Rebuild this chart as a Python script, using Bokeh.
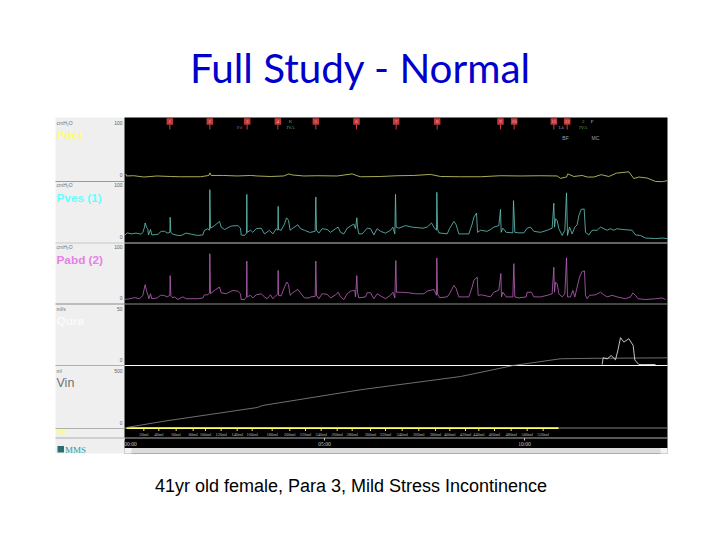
from bokeh.plotting import figure
from bokeh.models import Range1d, Label, BoxAnnotation
from bokeh.embed import file_html
from bokeh.resources import INLINE

# ---- data (time in s, pressure in cmH2O, flow ml/s, volume ml)
pdet_t = [2,3,14,29,49,69,84,114,126.5,128,130,149,169,189,199,219,239,246.5,251.5,269,289,319,341.5,349,354,384,409,434,459,474,504,534,564,594,624,649,654,663,665,674,686.5,694,704,715,726.5,738,756.5,764,771.5,784,796.5,806.5,814]
pdet_v = [5,1,1.5,-1,1,0,-0.5,-0.5,2,7,2,2,1,2,1,0,1,5,3,1,1.5,1,5,1.5,-0.5,0,1.5,2,4,0,-0.5,-0.5,1.5,1,1.5,1,-3.5,-1,5,0,2,-1,-1,3.5,0,6.5,9,-4,-1,-3,-9.5,-10,-8]

pves_t = [0,4,10,17.5,25,27.5,30,31,33,35,36,39,41,50,55,60,65,68,68.5,69.5,72.5,80,85,92.5,100,110,117.5,120,125,127.5,128,129,135,142.5,145,150,160,170,174,175,180,183,183.5,184,189,192.5,197.5,205,210,217.5,222.5,227.5,230,230.5,231,235,240,243,246,248.5,252.5,260,264,270,277.5,
          279,286,287,288,291.5,296.5,304,309,316.5,320.5,324,329,334,339,344,346.5,348.5,349.5,351.5,356.5,364,369,374,379,384,391.5,399,402.5,405.5,406.5,407.5,411.5,421.5,431.5,447.5,454,460.5,464,468,468.5,469.5,471.5,484,487.5,494,497.5,501.5,516.5,521.5,524,528,529.5,534,544,
          549,554,561.5,564,565,567.5,572.5,582.5,583.5,585.5,591.5,599,604,609,614,624,634,641.5,644,645,646.5,649,651.5,656.5,660.5,663,664.5,667.5,671.5,675.5,679,681.5,685,689.5,691.5,696.5,701.5,709,714,719,724,729,734,739,746.5,761.5,766.5,774,781.5,796.5,806.5,814.5]
pves_v = [2,7,5,6.5,4.5,8,18,26,18,13.5,3,13.5,3,4,10,10,6.5,8,37,8,4.5,2,2,6.5,4.5,2,3,12,15,12,90,16,21,29,18,13.5,20,21,16,3,2,6.5,81,8,12,8,15,16,5,12,5,15,12,58,13.5,12,24,36,31,12,16,22.5,15,12,8,
          8,10,76,12,6.5,15,13.5,8,15,18,8,5,16,20,24,15,36,18,5,5,16,15,3,15,10,6.5,12,18,5,81,18,16,21,18,16,18,26,18,12,85,15,7,5,15,29,22.5,5,5,24,37,45,8,12,10,
          13.5,18,21,52,8,16,8,7,69,8,7,7,16,18,10,8,12,16,64,18,34,31,15,2,12,84,2,18,5,18,22.5,40,52,53,8,3,12,12,18,15,12,15,12,15,13.5,12,3,2,-3,-4,-3,-4]

pabd_t = [0,7.5,15,22.5,27.5,31,33,35,36.5,39,41,49,54,59,64,68,68.5,69.5,72.5,75,80,87.5,92.5,110,117.5,120,125,127.5,128,129,135,142.5,145,152.5,162.5,170,174,175,180,183,183.5,184,189,192.5,197.5,205,210,214,219,222.5,227.5,230,230.5,231,235,240,243.5,246,248.5,252.5,260,265,270,277.5,
          279,286,287,288,291.5,296.5,304,309,316.5,320.5,324,329,334,339,345.5,346.5,348.5,349.5,351.5,361.5,364,369,374,379,384,391.5,399,402.5,405.5,407,408,414,426.5,436.5,449,454,464,468,468.5,469.5,472.5,484,487.5,494,497.5,501.5,516.5,521.5,524,529,530.5,535.5,549,
          554,561.5,564.5,565.5,567.5,572.5,582.5,584,585.5,591.5,602.5,604,610.5,614,624,634,641.5,644,645,646.5,649,651.5,656.5,660.5,663,664.5,669,672.5,675.5,679,682.5,686.5,690,691.5,694,697.5,706.5,714,719,724,731.5,739,751.5,759,762.5,766.5,770.5,781.5,796.5,806.5,811.5]
pabd_v = [0,1.5,3.5,1.5,8,28.5,17.5,9,1.5,11,1.5,3,8,8,5,8,46,8,3,5,0,5,1.5,1.5,3,9,9,13,88,11,17.5,24,13,11,17.5,16,11,0,0,5,74,5,8,3,9,11,5,1.5,9,1.5,8,11,56,8,7,24,33.5,28.5,8,13,19.5,11,3,3,
          5,6,74,8,1.5,11,10,3,9,14,5,0,11,16,17.5,5,46,14,3,5,13,13,1.5,11,7,1.5,8,14,3,75,14,14,13,11,11,16,19.5,8,80,11,3.5,5,11,27,21,5,5,24,37,43,8,9,5,
          14,18,50,5,14,5,5,69,5,3,5,14,14,5,5,8,11,62,14,33.5,30,11,5,11,80,5,5,17.5,5,24,43,54,55,8,1.5,8,9,14,9,5,8,5,1.5,5,12.5,8,1.5,0,1.5,3,0]

qura_t = [716.5,718,724,730,736.5,740,744,749,756.5,763,765.5,771.5,779,796.5]
qura_v = [0,6,5,8,4.2,12.5,24,20,23,17,4,0,0,0]

vin_t = [3,59,199,207,354,504,583.5,654,703,814]
vin_v = [0,55,175,193,331,447,544,603,607,611]

event_t = [68,128,184,230,287,348,407.5,469,564,584.5,644,664]
event_labels = ["1","2","3","4","5","6","7","8","9","10","11","12"]
event_other_t = [172.5,249,655.5,688,701.5]
event_other_top = ["","K","","2","F"]
event_other_bottom = ["Pd","IVA","Lk","IVA",""]
event_other_colors = ["#9050B0","#50A050","#7090D0","#50A050","#C0C0C0"]

vol_tick_t = [29,51.5,77.5,103,121.5,145,169,191.5,221.5,248,271.5,295,319,341.5,369,391.5,416.5,441.5,466.5,488,511.5,531.5,555,580,604,628]
vol_tick_labels = [f"{v}ml" for v in range(20, 540, 20)]
time_ticks = [0, 300, 600]
time_tick_labels = ["00:00", "05:00", "10:00"]
panel_names = ["Pdet", "Pves (1)", "Pabd (2)", "Qura", "Vin"]
panel_units = ["cmH\u2082O", "cmH\u2082O", "cmH\u2082O", "ml/s", "ml"]
panel_max = ["100", "100", "100", "50", "500"]

# ---- page layout: the default ranges are page pixels of the picture
W, H = 704, 524
p = figure(width=W, height=H, output_backend="svg", toolbar_location=None,
           x_range=Range1d(0, W), y_range=Range1d(H, 0),
           min_border=0, min_border_left=0, min_border_right=0, min_border_top=0, min_border_bottom=0)
p.axis.visible = False
p.grid.visible = False
p.outline_line_color = None
p.background_fill_color = "white"
p.border_fill_color = "white"

def box(l, r, t, b, c):
    p.add_layout(BoxAnnotation(left=l, right=r, top=t, bottom=b, fill_color=c, fill_alpha=1, line_color=None, level="underlay"))

def txt(x, y, s, size, color, font="Liberation Sans", style="normal", align="left"):
    p.add_layout(Label(x=x, y=y, text=s, text_font=font, text_font_size=f"{size}px", text_color=color,
                       text_font_style=style, text_align=align, text_baseline="middle"))

box(55, 124, 117, 453, "#EFEFEF")
box(124, 667, 117, 453, "#000000")

# time and channel scales, all anchored on the picture
S_PER_PX = 1.5
p.extra_x_ranges["time"] = Range1d((0 - 124) * S_PER_PX, (W - 124) * S_PER_PX)
def y_scale(name, zero_px, px_per_unit):
    p.extra_y_ranges[name] = Range1d((zero_px - H) / px_per_unit, zero_px / px_per_unit)
y_scale("pdet", 176, 0.52)
y_scale("pves", 236, 0.52)
y_scale("pabd", 299, 0.52)
y_scale("qura", 364, 1.12)
y_scale("vin", 427, 0.114)

# separators
for y, c, l, r in [(181, "#9A9A9A", 55, 124), (242.5, "#C8C8C8", 55, 667), (303.5, "#8C8C8C", 55, 667),
                   (365, "#FFFFFF", 124, 667), (365, "#B0B0B0", 55, 124), (427.5, "#808080", 124, 667),
                   (428, "#B0B0B0", 55, 124), (437.5, "#B0B0B0", 55, 667)]:
    box(l, r, y - 0.6, y + 0.6, c)
box(126, 558, 426.8, 428.6, "#FFFF66")

# traces
tr = dict(x_range_name="time", line_width=0.9, line_alpha=0.9)
p.line(vin_t, vin_v, y_range_name="vin", line_color="#8A8A8A", **tr)
p.line(pdet_t, pdet_v, y_range_name="pdet", line_color="#D2D26A", **tr)
p.line(pves_t, pves_v, y_range_name="pves", line_color="#62C4BA", **tr)
p.line(pabd_t, pabd_v, y_range_name="pabd", line_color="#B862B8", **tr)
p.line(qura_t, qura_v, y_range_name="qura", line_color="#F0F0F0", **tr)

# events
n = len(event_t)
p.segment(event_t, [118] * n, event_t, [129] * n, x_range_name="time", line_color="#C04040", line_width=1)
p.scatter(event_t, [121] * n, x_range_name="time", marker="square", size=6.5, fill_color="#C03838", line_color=None)
p.text(event_t, [121] * n, text=event_labels, x_range_name="time", text_font="Liberation Sans",
       text_font_size="5px", text_color="#F4B0B0", text_align="center", text_baseline="middle")
m = len(event_other_t)
p.text(event_other_t, [121] * m, text=event_other_top, x_range_name="time", text_font="Liberation Sans",
       text_font_size="5px", text_color=event_other_colors, text_align="center", text_baseline="middle")
p.text(event_other_t, [127] * m, text=event_other_bottom, x_range_name="time", text_font="Liberation Sans",
       text_font_size="5px", text_color=event_other_colors, text_align="center", text_baseline="middle")
txt(565, 137, "BF", 5, "#A0A0A0", align="center")
txt(595, 137, "MC", 5, "#A0A0A0", align="center")

# left panel labels
ys = [134, 197, 259, 320, 382]
tops = [122, 184, 246, 308, 370]
zeros = [174, 236, 297, 359, 422]
colors = ["#FFFF66", "#66FFFF", "#E880E8", "#FAFAFA", "#707070"]
for nm, u, mx, c, y, ty, z in zip(panel_names, panel_units, panel_max, colors, ys, tops, zeros):
    bold = "normal" if nm == "Vin" else "bold"
    txt(56, y, nm, 12.5 if nm == "Vin" else 11.8, c, style=bold)
    txt(56, ty, u, 5, "#707070")
    txt(122, ty, mx, 5, "#606060", align="right")
    txt(122, z, "0", 5, "#606060", align="right")
txt(56, 431.5, "Fill", 6, "#FFFF66", style="bold")
box(57, 63.5, 445.5, 452, "#2C6E70")
txt(64.5, 449, "MMS", 9, "#2F9C9C", font="Liberation Serif")

# lower time axis
k = len(vol_tick_t)
p.text(vol_tick_t, [433.5] * k, text=vol_tick_labels, x_range_name="time", text_font="Liberation Sans",
       text_font_size="4.5px", text_color="#B8B8B8", text_align="center", text_baseline="middle")
p.segment(vol_tick_t, [428.5] * k, vol_tick_t, [430.5] * k, x_range_name="time", line_color="#E8E87A", line_width=1)
p.text(time_ticks, [443.5] * 3, text=time_tick_labels, x_range_name="time", text_font="Liberation Sans",
       text_font_size="5.5px", text_color="#C0C0C0", text_align="center", text_baseline="middle", x_offset=[6, 0, 0])
p.segment(time_ticks, [437.5] * 3, time_ticks, [440] * 3, x_range_name="time", line_color="#C0C0C0", line_width=1)
box(124, 667, 447.5, 453, "#DCDCDC")
box(124, 131, 447.5, 453, "#F2F2F2")
box(660, 667, 447.5, 453, "#F2F2F2")

# titles
txt(360, 67, "Full Study - Normal", 40.4, "#0000CC", font="Lato", align="center")
txt(350.5, 485, "41yr old female, Para 3, Mild Stress Incontinence", 18, "#000000", align="center")

open("out.html", "w").write(file_html(p, INLINE))
